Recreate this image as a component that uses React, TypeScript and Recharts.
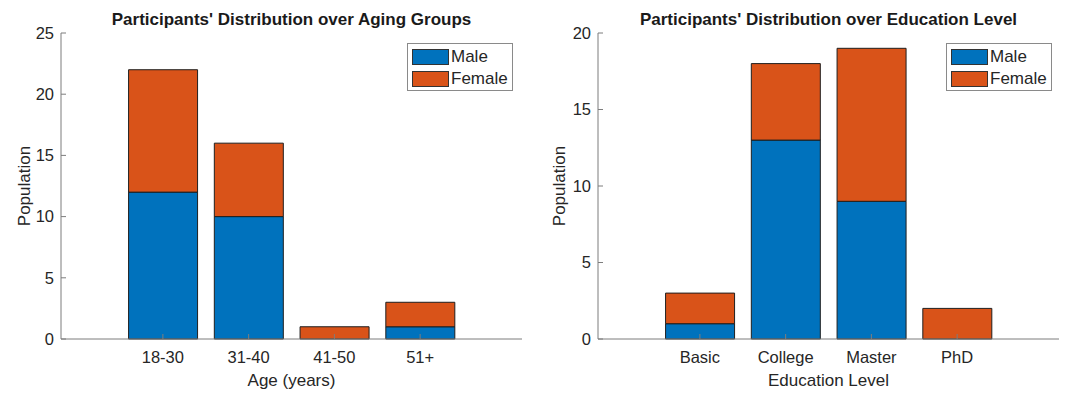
import React from 'react';
import { BarChart, Bar, XAxis, YAxis, Legend } from 'recharts';

// values
const ageGroups = ['18-30', '31-40', '41-50', '51+'];
const ageMale = [12, 10, 0, 1];
const ageFemale = [10, 6, 1, 2];
const ageTicks = [0, 5, 10, 15, 20, 25];

const eduLevels = ['Basic', 'College', 'Master', 'PhD'];
const eduMale = [1, 13, 9, 0];
const eduFemale = [2, 5, 10, 2];
const eduTicks = [0, 5, 10, 15, 20];

const seriesNames = ['Male', 'Female'];
const MALE = '#0072BD';
const FEMALE = '#D95319';
const AXIS = '#7d7d7d';
const TEXT = '#262626';
const FONT = '"Liberation Sans", Arial, Helvetica, sans-serif';

const LegendBox = () => (
  <div
    style={{
      position: 'relative',
      width: 106,
      height: 48,
      border: '1px solid #8a8a8a',
      boxSizing: 'border-box',
      background: '#fff',
      fontFamily: FONT,
      fontSize: 17,
      color: TEXT,
    }}
  >
    {seriesNames.map((name, i) => (
      <div key={name} style={{ position: 'absolute', left: 4, top: 4 + i * 22, height: 17, display: 'flex', alignItems: 'center' }}>
        <div
          style={{
            width: 37,
            height: 16,
            boxSizing: 'border-box',
            border: '1px solid #333',
            background: i === 0 ? MALE : FEMALE,
          }}
        />
        <span style={{ marginLeft: 2, lineHeight: '17px' }}>{name}</span>
      </div>
    ))}
  </div>
);

type PanelProps = {
  title: string;
  xLabel: string;
  cats: string[];
  male: number[];
  female: number[];
  ticks: number[];
  width: number;
  yAxisWidth: number;
  yLabelOffset: number;
  legendLeft: number;
};

const Panel = ({ title, xLabel, cats, male, female, ticks, width, yAxisWidth, yLabelOffset, legendLeft }: PanelProps) => {
  const data = cats.map((c, i) => ({ cat: c, Male: male[i], Female: female[i] }));
  const top = ticks[ticks.length - 1];
  const pad = { left: 59, right: 59 };
  const tickStyle = { fill: TEXT, fontSize: 16.5, fontFamily: FONT };
  const plotWidth = width - yAxisWidth - 8;

  return (
    <div style={{ position: 'relative', width, height: 393 }}>
      <div
        style={{
          position: 'absolute',
          left: yAxisWidth,
          top: 11,
          width: plotWidth,
          textAlign: 'center',
          fontFamily: FONT,
          fontWeight: 'bold',
          fontSize: 17,
          lineHeight: '17px',
          color: '#1a1a1a',
          whiteSpace: 'nowrap',
          zIndex: 2,
        }}
      >
        {title}
      </div>
      <BarChart
        width={width}
        height={393}
        data={data}
        margin={{ top: 33, right: 8, bottom: 0, left: 0 }}
        barCategoryGap="10%"
      >
        <XAxis
          dataKey="cat"
          height={54}
          padding={pad}
          tick={tickStyle}
          tickSize={-5}
          tickMargin={17}
          stroke={AXIS}
          tickLine={{ stroke: AXIS }}
          label={{ value: xLabel, position: 'insideBottom', offset: 7, fill: TEXT, fontSize: 17, fontFamily: FONT }}
        />
        <XAxis
          xAxisId="top"
          dataKey="cat"
          orientation="top"
          height={0}
          padding={pad}
          tick={false}
          tickSize={-5}
          stroke={AXIS}
          tickLine={{ stroke: AXIS }}
        />
        <YAxis
          width={yAxisWidth}
          domain={[0, top]}
          ticks={ticks}
          interval={0}
          tick={tickStyle}
          tickSize={-5}
          tickMargin={12}
          stroke={AXIS}
          tickLine={{ stroke: AXIS }}
          label={{
            value: 'Population',
            angle: -90,
            position: 'insideLeft',
            offset: yLabelOffset,
            fill: TEXT,
            fontSize: 17,
            fontFamily: FONT,
            style: { textAnchor: 'middle' },
          }}
        />
        <YAxis
          yAxisId="right"
          orientation="right"
          width={0}
          type="number"
          domain={[0, top]}
          ticks={ticks}
          interval={0}
          tick={false}
          tickSize={-5}
          stroke={AXIS}
          tickLine={{ stroke: AXIS }}
        />
        <Legend
          layout="vertical"
          align="center"
          verticalAlign="middle"
          content={() => <LegendBox />}
          wrapperStyle={{ left: legendLeft, top: 43, width: 106, height: 48 }}
        />
        <Bar dataKey="Male" stackId="s" fill={MALE} stroke="#1f1f1f" strokeWidth={1} isAnimationActive={false} />
        <Bar dataKey="Female" stackId="s" fill={FEMALE} stroke="#1f1f1f" strokeWidth={1} isAnimationActive={false} />
      </BarChart>
    </div>
  );
};

export default function App() {
  return (
    <div style={{ position: 'absolute', left: 0, top: 0, width: 1067, height: 393, background: '#fff' }}>
      <div style={{ position: 'absolute', left: 0, top: 0 }}>
        <Panel
          title="Participants' Distribution over Aging Groups"
          xLabel="Age (years)"
          cats={ageGroups}
          male={ageMale}
          female={ageFemale}
          ticks={ageTicks}
          width={530}
          yAxisWidth={61}
          yLabelOffset={24}
          legendLeft={407}
        />
      </div>
      <div style={{ position: 'absolute', left: 530, top: 0 }}>
        <Panel
          title="Participants' Distribution over Education Level"
          xLabel="Education Level"
          cats={eduLevels}
          male={eduMale}
          female={eduFemale}
          ticks={eduTicks}
          width={537}
          yAxisWidth={68}
          yLabelOffset={29}
          legendLeft={416}
        />
      </div>
    </div>
  );
}
